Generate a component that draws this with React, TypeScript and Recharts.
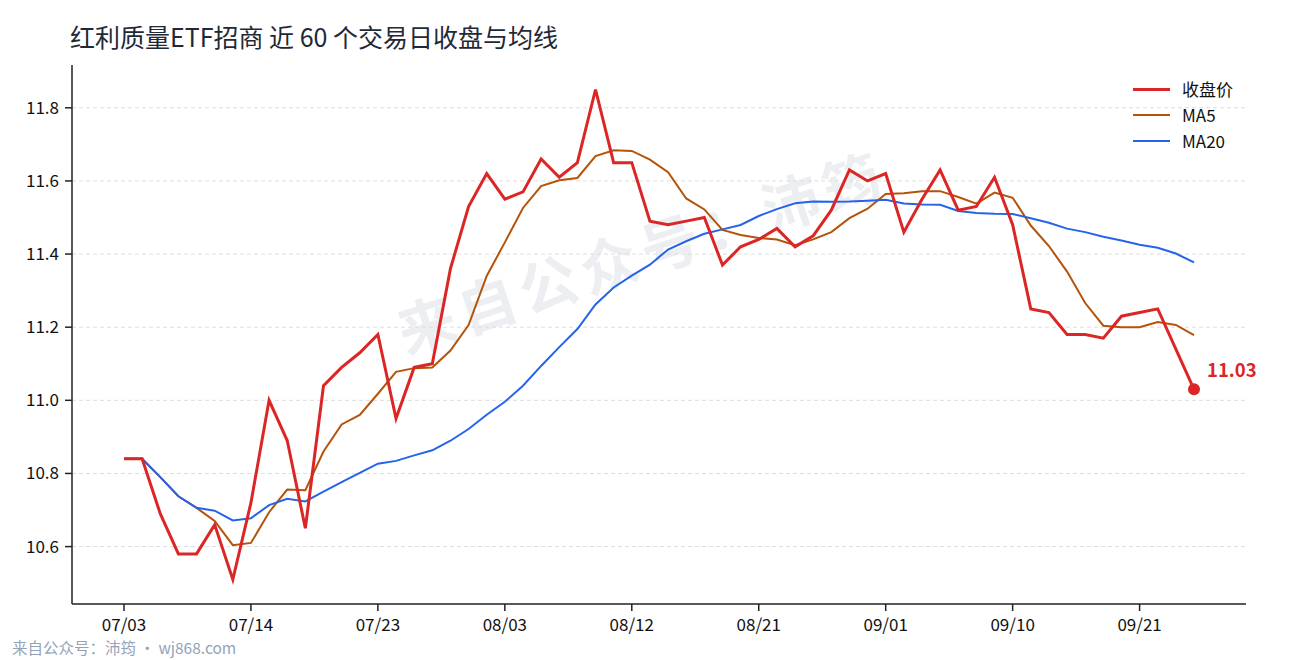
import React from "react";
import { LineChart, Line, XAxis, YAxis, CartesianGrid } from "recharts";

const dates = [
  "07/03","07/04","07/07","07/08","07/09","07/10","07/11","07/14","07/15","07/16",
  "07/17","07/18","07/21","07/22","07/23","07/24","07/25","07/28","07/29","07/30",
  "07/31","08/03","08/04","08/05","08/06","08/07","08/08","08/11","08/12","08/13",
  "08/14","08/15","08/18","08/19","08/20","08/21","08/22","08/25","08/26","08/27",
  "08/28","08/29","09/01","09/02","09/03","09/04","09/05","09/08","09/09","09/10",
  "09/11","09/12","09/15","09/16","09/17","09/18","09/21","09/22","09/23","09/24",
];

const closes = [
  10.84, 10.84, 10.69, 10.58, 10.58, 10.66, 10.51, 10.72, 11.0, 10.89,
  10.65, 11.04, 11.09, 11.13, 11.18, 10.95, 11.09, 11.1, 11.36, 11.53,
  11.62, 11.55, 11.57, 11.66, 11.61, 11.65, 11.85, 11.65, 11.65, 11.49,
  11.48, 11.49, 11.5, 11.37, 11.42, 11.44, 11.47, 11.42, 11.45, 11.52,
  11.63, 11.6, 11.62, 11.46, 11.55, 11.63, 11.52, 11.53, 11.61, 11.48,
  11.25, 11.24, 11.18, 11.18, 11.17, 11.23, 11.24, 11.25, 11.14, 11.03,
];

const ma5 = [
  10.84, 10.84, 10.79, 10.7375, 10.706, 10.67, 10.604, 10.61, 10.694, 10.756,
  10.754, 10.86, 10.934, 10.96, 11.018, 11.078, 11.088, 11.09, 11.136, 11.206,
  11.34, 11.432, 11.526, 11.586, 11.602, 11.608, 11.668, 11.684, 11.682, 11.658,
  11.624, 11.552, 11.522, 11.466, 11.452, 11.444, 11.44, 11.424, 11.44, 11.46,
  11.498, 11.524, 11.564, 11.566, 11.572, 11.572, 11.556, 11.538, 11.568, 11.554,
  11.478, 11.422, 11.352, 11.266, 11.204, 11.2, 11.2, 11.214, 11.206, 11.178,
];

const ma20 = [
  10.84, 10.84, 10.79, 10.7375, 10.706, 10.6983, 10.6714, 10.6775, 10.7133, 10.731,
  10.7236, 10.75, 10.7762, 10.8014, 10.8267, 10.8344, 10.8494, 10.8633, 10.8895, 10.9215,
  10.9605, 10.996, 11.04, 11.094, 11.1455, 11.195, 11.262, 11.3085, 11.341, 11.371,
  11.4125, 11.435, 11.4555, 11.4675, 11.4795, 11.504, 11.523, 11.539, 11.5435, 11.543,
  11.5435, 11.546, 11.5485, 11.5385, 11.5355, 11.5345, 11.518, 11.512, 11.51, 11.5095,
  11.498, 11.4855, 11.4695, 11.46, 11.4475, 11.437, 11.4255, 11.417, 11.4015, 11.377,
];

const yTicks = [10.6, 10.8, 11.0, 11.2, 11.4, 11.6, 11.8];

const titleText = "红利质量ETF招商 近 60 个交易日收盘与均线";
const watermarkText = "来自公众号：沛筠";
const footerText = "来自公众号：沛筠 · wj868.com";

const legendItems = [
  { name: "收盘价", color: "#dc2626", width: 3 },
  { name: "MA5", color: "#b45309", width: 2 },
  { name: "MA20", color: "#2563eb", width: 2 },
];

const data = dates.map((d, i) => ({ date: d, close: closes[i], ma5: ma5[i], ma20: ma20[i] }));

const FONT = '"Noto Sans CJK SC", "Noto Sans", sans-serif';
const lastIndex = data.length - 1;

export default function App() {
  return (
    <div style={{ position: "absolute", left: 0, top: 0, width: 1290, height: 660, background: "#fff", fontFamily: FONT, overflow: "hidden" }}>
      <div
        style={{
          position: "absolute",
          left: 641,
          top: 250,
          transform: "translate(-50%, -50%) rotate(-18.5deg)",
          fontSize: 58,
          fontWeight: 700,
          letterSpacing: 6,
          color: "rgba(100,116,139,0.12)",
          whiteSpace: "nowrap",
          lineHeight: 1,
        }}
      >
        {watermarkText}
      </div>
      <div style={{ position: "absolute", left: 70, top: 19, fontSize: 25, color: "#1f2937", whiteSpace: "nowrap", lineHeight: "34px" }}>
        {titleText}
      </div>
      <div style={{ position: "absolute", left: 0, top: 0 }}>
        <LineChart width={1290} height={660} data={data} margin={{ top: 65, right: 44, bottom: 26, left: 0 }}>
          <CartesianGrid vertical={false} horizontalValues={yTicks} syncWithTicks stroke="#dddddd" strokeDasharray="4 3" />
          <XAxis
            dataKey="date"
            interval={6}
            padding={{ left: 52, right: 52 }}
            height={30}
            tickSize={7}
            tickMargin={8}
            stroke="#222"
            strokeWidth={1.5}
            tick={{ fill: "#111", fontSize: 17, fontFamily: FONT }}
          />
          <YAxis
            width={72}
            domain={[10.443, 11.917]}
            ticks={yTicks}
            allowDataOverflow
            tickFormatter={(v: number) => v.toFixed(1)}
            tickSize={7}
            tickMargin={6}
            stroke="#222"
            strokeWidth={1.5}
            tick={{ fill: "#111", fontSize: 17, fontFamily: FONT }}
          />
          <Line type="linear" dataKey="ma5" stroke="#b45309" strokeWidth={2} dot={false} isAnimationActive={false} />
          <Line type="linear" dataKey="ma20" stroke="#2563eb" strokeWidth={2} dot={false} isAnimationActive={false} />
          <Line
            type="linear"
            dataKey="close"
            stroke="#dc2626"
            strokeWidth={3}
            isAnimationActive={false}
            dot={(p: any) =>
              p.index === lastIndex ? (
                <circle key={`d${p.index}`} cx={p.cx} cy={p.cy} r={6} fill="#dc2626" stroke="none" />
              ) : (
                <g key={`d${p.index}`} />
              )
            }
            label={(p: any) =>
              p.index === lastIndex ? (
                <text key={`l${p.index}`} x={p.x + 13} y={p.y - 12} fill="#dc2626" fontSize={18.5} fontWeight={700} fontFamily={FONT}>
                  {Number(p.value).toFixed(2)}
                </text>
              ) : (
                <g key={`l${p.index}`} />
              )
            }
          />
        </LineChart>
      </div>
      <div style={{ position: "absolute", left: 1133, top: 76 }}>
        {legendItems.map((it) => (
          <div key={it.name} style={{ display: "flex", alignItems: "center", height: 26 }}>
            <div style={{ width: 37, height: it.width, background: it.color, marginRight: 12 }} />
            <span style={{ fontSize: 17, color: "#111", lineHeight: "26px" }}>{it.name}</span>
          </div>
        ))}
      </div>
      <div style={{ position: "absolute", left: 12, top: 636, fontSize: 15.5, color: "#94a3b8", whiteSpace: "nowrap", lineHeight: "22px" }}>
        {footerText}
      </div>
    </div>
  );
}
